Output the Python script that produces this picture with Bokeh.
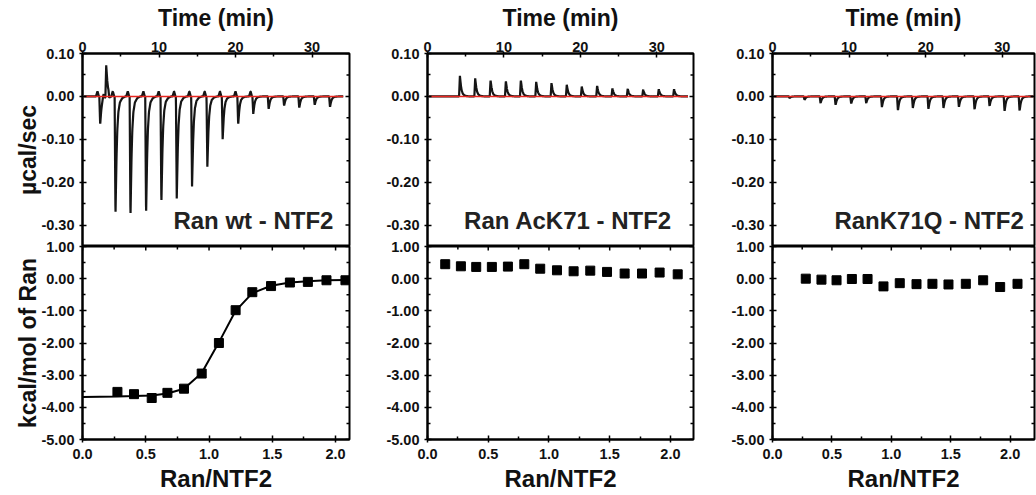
import numpy as np
from bokeh.plotting import figure
from bokeh.models import FixedTicker, PrintfTickFormatter, Label, Range1d
from bokeh.layouts import row, column
from bokeh.embed import file_html
from bokeh.resources import INLINE

# ---------------- data ----------------
# raw ITC traces: injection times (min) and peak heights (ucal/sec)
inj_t1 = [2.26, 3.05, 3.45, 4.26, 6.22, 8.26, 10.26, 12.27, 14.27, 16.27, 18.27,
          20.30, 22.27, 24.28, 26.30, 28.28, 30.30, 32.30]
peak1 = [-0.066, 0.074, -0.012, -0.279, -0.282, -0.277, -0.251, -0.238, -0.210, -0.164,
         -0.100, -0.066, -0.041, -0.030, -0.022, -0.027, -0.020, -0.025]

inj_t2 = [4.19, 6.19, 8.20, 10.20, 12.16, 14.17, 16.17, 18.17, 20.13, 22.14,
          24.14, 26.14, 28.16, 30.20, 32.20]
peak2 = [0.048, 0.042, 0.038, 0.036, 0.038, 0.034, 0.031, 0.027, 0.023, 0.025,
         0.019, 0.018, 0.016, 0.017, 0.017]

inj_t3 = [2.17, 4.13, 6.22, 8.18, 10.22, 12.18, 14.23, 16.32, 18.27, 20.30,
          22.27, 24.28, 26.32, 28.28, 30.24, 32.20]
peak3 = [-0.004, -0.008, -0.016, -0.020, -0.017, -0.016, -0.025, -0.033, -0.027,
         -0.030, -0.027, -0.025, -0.031, -0.023, -0.035, -0.034]

trace_span = [0.2, 34.1]

# integrated heats (kcal/mol of Ran) vs molar ratio Ran/NTF2
ratio1 = [0.276, 0.407, 0.547, 0.671, 0.802, 0.942, 1.078, 1.210, 1.342, 1.490,
          1.639, 1.781, 1.928, 2.078]
heat1 = [-3.52, -3.59, -3.71, -3.55, -3.42, -2.95, -2.00, -0.98, -0.42, -0.23,
         -0.12, -0.10, -0.05, -0.05]
fit_x1 = [0.0, 0.276, 0.407, 0.547, 0.671, 0.802, 0.942, 1.078, 1.210, 1.342,
          1.490, 1.639, 1.781, 1.928, 2.078]
fit_y1 = [-3.68, -3.66, -3.65, -3.63, -3.57, -3.42, -2.93, -1.98, -1.00, -0.45,
          -0.22, -0.12, -0.08, -0.05, -0.04]

ratio2 = [0.146, 0.275, 0.401, 0.530, 0.662, 0.797, 0.928, 1.066, 1.203, 1.340,
          1.478, 1.623, 1.766, 1.911, 2.060]
heat2 = [0.45, 0.385, 0.365, 0.365, 0.375, 0.45, 0.31, 0.26, 0.23, 0.25,
         0.21, 0.16, 0.16, 0.19, 0.135]

ratio3 = [0.280, 0.412, 0.539, 0.668, 0.800, 0.934, 1.071, 1.212, 1.346, 1.481,
          1.627, 1.773, 1.916, 2.062]
heat3 = [0.0, -0.03, -0.05, -0.01, -0.01, -0.24, -0.14, -0.17, -0.16, -0.18,
         -0.16, -0.05, -0.26, -0.16]

panel_names = ["Ran wt - NTF2", "Ran AcK71 - NTF2", "RanK71Q - NTF2"]

time_ticks = [0, 10, 20, 30]
time_minor = [5, 15, 25, 35]
power_ticks = [-0.30, -0.20, -0.10, 0.00, 0.10]
power_minor = [-0.35, -0.25, -0.15, -0.05, 0.05]
ratio_ticks = [0.0, 0.5, 1.0, 1.5, 2.0]
ratio_minor = [0.25, 0.75, 1.25, 1.75, 2.25]
heat_ticks = [-5.0, -4.0, -3.0, -2.0, -1.0, 0.0, 1.0]
heat_minor = [-4.5, -3.5, -2.5, -1.5, -0.5, 0.5]

# ---------------- styling / shapes ----------------
FONT = "Liberation Sans"
SHAPE_DT = [-0.06, 0.0, 0.05, 0.11, 0.19, 0.29, 0.43, 0.63, 0.93, 1.35]
SHAPE_FR = [0.0, 0.55, 1.0, 0.78, 0.5, 0.28, 0.13, 0.05, 0.015, 0.0]
BUMP_DT = [-0.5, -0.3, -0.12]
BUMP_FR = [0.0, 1.0, 0.0]


def build_trace(times, peaks, bump):
    t = np.arange(trace_span[0], trace_span[1], 0.02)
    y = np.zeros_like(t)
    for te, pk in zip(times, peaks):
        y += pk * np.interp(t - te, SHAPE_DT, SHAPE_FR, left=0.0, right=0.0)
        if pk < -0.03 or pk > 0.03:
            y += bump * np.interp(t - te, BUMP_DT, BUMP_FR, left=0.0, right=0.0)
    return t, y


def style_axis(ax, title_size="24px"):
    ax.axis_line_width = 2
    ax.axis_line_color = "black"
    ax.major_tick_line_width = 1.5
    ax.minor_tick_line_width = 1.5
    ax.major_tick_line_color = "black"
    ax.minor_tick_line_color = "black"
    ax.major_tick_in = 4
    ax.major_tick_out = 3
    ax.minor_tick_in = 3
    ax.minor_tick_out = 0
    ax.major_label_text_font = FONT
    ax.major_label_text_font_style = "bold"
    ax.major_label_text_font_size = "14.5px"
    ax.major_label_text_color = "#111111"
    ax.major_label_standoff = 5
    ax.axis_label_text_font = FONT
    ax.axis_label_text_font_style = "bold"
    ax.axis_label_text_font_size = title_size
    ax.axis_label_text_color = "#111111"
    ax.axis_label_standoff = 3


def inner_ticks(p, along, major, minor, fixed, angle):
    # short inward ticks on a spine without labels (clipped to the frame)
    for vals, sz in ((major, 8), (minor, 6)):
        if along == "x":
            xs, ys = vals, [fixed] * len(vals)
        else:
            xs, ys = [fixed] * len(vals), vals
        p.scatter(xs, ys, marker="dash", size=sz, angle=angle,
                  line_color="black", line_width=1.5)


TOP_B = 53
FRAME_H = 193
OVERLAP = 10
BOT_B = 55

cols = [
    # left border, frame width, right border, time end, ratio end, label x
    dict(lb=82, fw=267, rb=23, tend=34.9, rend=2.11, lx=32.8),
    dict(lb=55, fw=266, rb=24, tend=34.8, rend=2.19, lx=32.0),
    dict(lb=55, fw=262, rb=2, tend=34.2, rend=2.205, lx=32.8),
]
traces = [(inj_t1, peak1, 0.012), (inj_t2, peak2, 0.0), (inj_t3, peak3, 0.0)]
points = [(ratio1, heat1), (ratio2, heat2), (ratio3, heat3)]

columns = []
for i, c in enumerate(cols):
    W = c["lb"] + c["fw"] + c["rb"]
    # ---------- raw heat panel ----------
    pt = figure(width=W, height=TOP_B + FRAME_H, x_range=Range1d(0, c["tend"]),
                y_range=Range1d(-0.35, 0.10), x_axis_location="above",
                output_backend="svg", toolbar_location=None,
                min_border_left=c["lb"], min_border_right=c["rb"],
                min_border_top=TOP_B, min_border_bottom=0)
    pt.grid.visible = False
    pt.outline_line_color = "black"
    pt.outline_line_width = 2
    pt.xaxis.ticker = FixedTicker(ticks=time_ticks, minor_ticks=time_minor)
    pt.xaxis.axis_label = "Time (min)"
    pt.yaxis.ticker = FixedTicker(ticks=power_ticks, minor_ticks=power_minor)
    pt.yaxis.formatter = PrintfTickFormatter(format="%.2f")
    if i == 0:
        pt.yaxis.axis_label = "\u00b5cal/sec"
    for ax in pt.xaxis:
        style_axis(ax, "23px")
        ax.major_label_standoff = 0
        ax.major_tick_out = 2
        ax.axis_label_standoff = 8
    for ax in pt.yaxis:
        style_axis(ax, "23px")
        ax.axis_label_standoff = -3

    tt, yy = build_trace(*traces[i])
    pt.line(tt, yy, line_color="#151515", line_width=2.2)
    pt.line([tt[0], tt[-1]], [0, 0], line_color="#e8251f", line_width=1.5)
    inner_ticks(pt, "y", power_ticks, power_minor, pt.x_range.end, 0)
    pt.add_layout(Label(x=c["lx"], y=-0.32, text=panel_names[i], text_align="right",
                        text_font=FONT, text_font_style="bold", text_font_size="24px",
                        text_color="#222222"))

    # ---------- integrated heat panel ----------
    pb = figure(width=W, height=OVERLAP + FRAME_H + BOT_B, x_range=Range1d(0, c["rend"]),
                y_range=Range1d(-5.0, 1.0),
                output_backend="svg", toolbar_location=None,
                min_border_left=c["lb"], min_border_right=c["rb"],
                min_border_top=OVERLAP, min_border_bottom=BOT_B)
    pb.margin = (-OVERLAP, 0, 0, 0)
    pb.border_fill_color = None
    pb.grid.visible = False
    pb.outline_line_color = "black"
    pb.outline_line_width = 2
    pb.xaxis.ticker = FixedTicker(ticks=ratio_ticks, minor_ticks=ratio_minor)
    pb.xaxis.formatter = PrintfTickFormatter(format="%.1f")
    pb.xaxis.axis_label = "Ran/NTF2"
    pb.yaxis.ticker = FixedTicker(ticks=heat_ticks, minor_ticks=heat_minor)
    pb.yaxis.formatter = PrintfTickFormatter(format="%.2f")
    if i == 0:
        pb.yaxis.axis_label = "kcal/mol of Ran"
    for ax in pb.xaxis:
        style_axis(ax, "24px")
        ax.major_label_standoff = 6
        ax.axis_label_standoff = 3
    for ax in pb.yaxis:
        style_axis(ax, "23px")
        ax.axis_label_standoff = -3

    if i == 0:
        pb.line(fit_x1, fit_y1, line_color="black", line_width=2)
    rx, hy = points[i]
    pb.scatter(rx, hy, marker="square", size=9, fill_color="black", line_color="black")
    inner_ticks(pb, "y", heat_ticks, heat_minor, pb.x_range.end, 0)
    inner_ticks(pb, "x", ratio_ticks, ratio_minor, pb.y_range.end, np.pi / 2)

    columns.append(column(pt, pb, spacing=0))

layout = row(*columns, spacing=0)
open("out.html", "w").write(file_html(layout, INLINE))
